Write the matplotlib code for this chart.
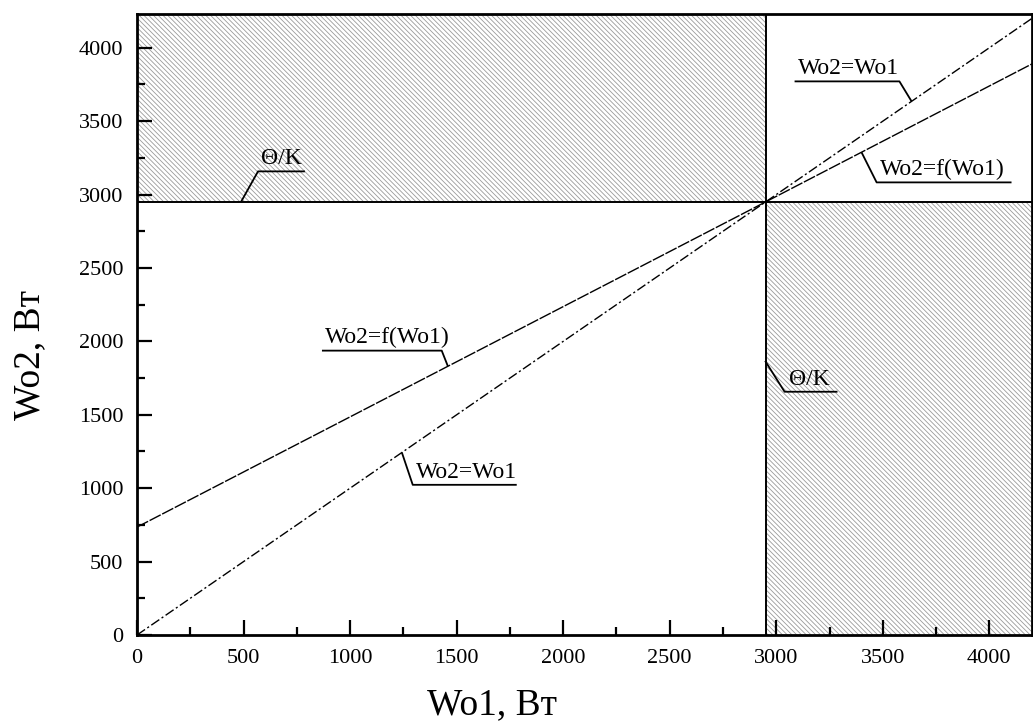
import matplotlib.pyplot as plt
from matplotlib.patches import Rectangle
from matplotlib.ticker import MultipleLocator
import numpy as np

# data
x_max = 4200
y_max = 4230
threshold = 2950          # Θ/K boundary, both axes
wo1_eq = [0, 4230]        # Wo2 = Wo1
wo2_eq = [0, 4230]
wo1_f = [0, 2950, 4200]   # Wo2 = f(Wo1)
wo2_f = [735, 2950, 3890]

plt.rcParams['font.family'] = ['Liberation Serif', 'DejaVu Serif']
plt.rcParams['hatch.linewidth'] = 0.6

fig = plt.figure(figsize=(10.33, 7.23), dpi=100)
ax = fig.add_axes([137 / 1033, 1 - 635 / 723, 1 - 137 / 1033 - 0.001, (635 - 14) / 723])

# shaded forbidden zones
hatch = '\\' * 7
for xy, w, h in [((0, threshold), threshold, y_max - threshold),
                 ((threshold, 0), x_max - threshold, threshold)]:
    ax.add_patch(Rectangle(xy, w, h, fill=False, hatch=hatch,
                           edgecolor='#9a9a9a', linewidth=0, zorder=1))

ax.axhline(threshold, color='black', lw=1.4, zorder=3)
ax.axvline(threshold, color='black', lw=1.4, zorder=3)

ax.plot(wo1_eq, wo2_eq, color='black', lw=1.0, ls=(0, (7, 2, 1.5, 2)), zorder=4)
ax.plot(wo1_f, wo2_f, color='black', lw=1.0, ls=(0, (9, 1.2)), zorder=4)

ax.set_xlim(0, x_max)
ax.set_ylim(0, y_max)
ax.xaxis.set_major_locator(MultipleLocator(500))
ax.xaxis.set_minor_locator(MultipleLocator(250))
ax.yaxis.set_major_locator(MultipleLocator(500))
ax.yaxis.set_minor_locator(MultipleLocator(250))
ax.tick_params(which='both', direction='in', top=False, right=False,
               width=1.6, labelsize=16)
ax.tick_params(which='major', length=11)
ax.tick_params(which='minor', length=6)
ax.tick_params(axis='x', pad=10)
ax.tick_params(axis='y', pad=10)
for s in ax.spines.values():
    s.set_linewidth(2.0)


def leader(text, x_on, line_x, line_y, bend, end, size=17):
    """leader line from a point on a curve, bend, then underline with text"""
    y_on = np.interp(x_on, line_x, line_y)
    ax.plot([x_on, bend[0], end], [y_on, bend[1], bend[1]], color='black',
            lw=1.3, zorder=5, solid_capstyle='butt')
    x0 = min(bend[0], end)
    ax.text(x0 + 15, bend[1] + 15, text, fontsize=size, ha='left', va='bottom',
            zorder=6)


leader('Θ/K', 488, [0, x_max], [threshold, threshold], (568, 3158), 788)
leader('Wo2=Wo1', 3635, wo1_eq, wo2_eq, (3578, 3771), 3086)
leader('Wo2=f(Wo1)', 3400, wo1_f, wo2_f, (3471, 3083), 4104)
leader('Wo2=f(Wo1)', 1459, wo1_f, wo2_f, (1430, 1937), 868)
leader('Wo2=Wo1', 1243, wo1_eq, wo2_eq, (1294, 1023), 1782)

# Θ/K label at the vertical boundary
ax.plot([threshold, 3039, 3283], [1862, 1657, 1657], color='black', lw=1.3, zorder=5)
ax.text(3060, 1672, 'Θ/K', fontsize=17, ha='left', va='bottom', zorder=6)

fig.text(492 / 1033, 1 - 705 / 723, 'Wo1, Вт', fontsize=27, ha='center', va='center')
fig.text(30 / 1033, 1 - 355 / 723, 'Wo2, Вт', fontsize=27, ha='center', va='center',
         rotation=90)

fig.savefig('out.png', dpi=100)
